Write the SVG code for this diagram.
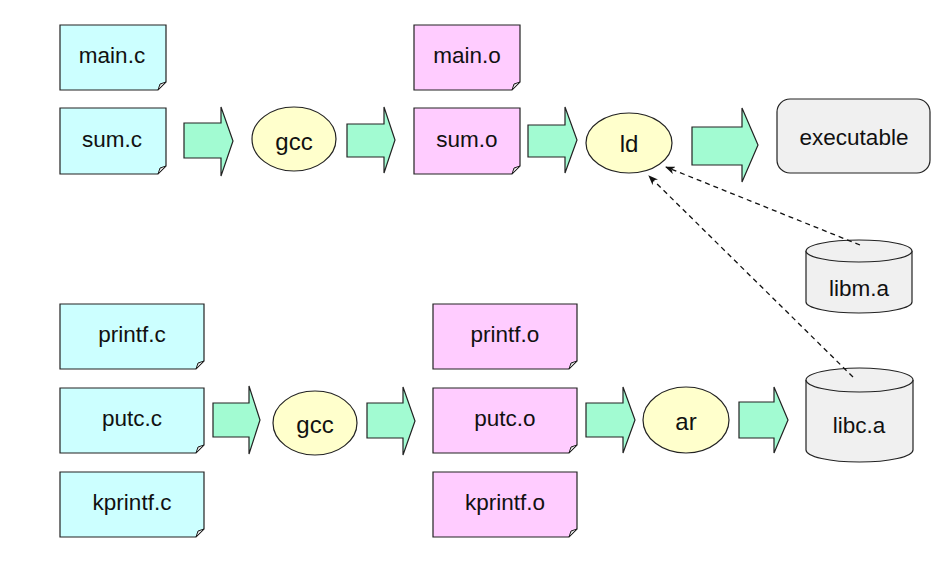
<svg xmlns="http://www.w3.org/2000/svg" width="943" height="568" viewBox="0 0 943 568">
<style>
.t{font-family:"Liberation Sans",Arial,sans-serif;font-size:22.5px;fill:#111;text-anchor:middle;dominant-baseline:central}
.src{fill:#ccffff;stroke:#222;stroke-width:1.2}
.obj{fill:#ffccff;stroke:#222;stroke-width:1.2}
.fold{fill:#d8d8d8;stroke:#222;stroke-width:1}
.tool{fill:#ffffcc;stroke:#222;stroke-width:1.2}
.gray{fill:#f0f0f0;stroke:#222;stroke-width:1.2}
.blk{fill:#a2fbd2;stroke:#222;stroke-width:1.2}
.dash{fill:none;stroke:#111;stroke-width:1.3;stroke-dasharray:5,4}
</style>
<defs>
<marker id="ah" markerWidth="10" markerHeight="8" refX="9" refY="4" orient="auto" markerUnits="userSpaceOnUse">
<path d="M0,0 L10,4 L0,8 L3,4 Z" fill="#111"/>
</marker>
</defs>
<rect width="943" height="568" fill="#fff"/>

<g id="main_c"><path class="src" d="M60,25 H166 V82 L158,90 H60 Z"/><path class="fold" d="M158,90 L160,84 L166,82 Z"/><text class="t" x="112" y="55">main.c</text></g>
<g id="sum_c"><path class="src" d="M60,108 H166 V166 L158,174 H60 Z"/><path class="fold" d="M158,174 L160,168 L166,166 Z"/><text class="t" x="112" y="139">sum.c</text></g>
<g id="gcc1"><ellipse class="tool" cx="294" cy="139" rx="42" ry="32"/><text class="t" x="294" y="141" style="font-size:24px">gcc</text></g>
<g id="main_o"><path class="obj" d="M414,25 H520 V82 L512,90 H414 Z"/><path class="fold" d="M512,90 L514,84 L520,82 Z"/><text class="t" x="467" y="55">main.o</text></g>
<g id="sum_o"><path class="obj" d="M414,108 H520 V166 L512,174 H414 Z"/><path class="fold" d="M512,174 L514,168 L520,166 Z"/><text class="t" x="467" y="139">sum.o</text></g>
<g id="ld"><ellipse class="tool" cx="629" cy="143" rx="43" ry="30"/><text class="t" x="629" y="143" style="font-size:24px">ld</text></g>
<g id="executable"><rect class="gray" x="777" y="99" width="153" height="74" rx="13"/><text class="t" x="854" y="137">executable</text></g>
<g id="libm_a"><path class="gray" d="M806,251 V302 A53,11 0 0 0 912,302 V251"/><ellipse class="gray" cx="859" cy="251" rx="53" ry="11"/><text class="t" x="859" y="288">libm.a</text></g>

<g id="printf_c"><path class="src" d="M60,304 H204 V361 L196,369 H60 Z"/><path class="fold" d="M196,369 L198,363 L204,361 Z"/><text class="t" x="132" y="334">printf.c</text></g>
<g id="putc_c"><path class="src" d="M60,388 H204 V445 L196,453 H60 Z"/><path class="fold" d="M196,453 L198,447 L204,445 Z"/><text class="t" x="132" y="418">putc.c</text></g>
<g id="kprintf_c"><path class="src" d="M60,472 H204 V529 L196,537 H60 Z"/><path class="fold" d="M196,537 L198,531 L204,529 Z"/><text class="t" x="132" y="502">kprintf.c</text></g>
<g id="gcc2"><ellipse class="tool" cx="315" cy="423" rx="42" ry="32"/><text class="t" x="315" y="424" style="font-size:24px">gcc</text></g>
<g id="printf_o"><path class="obj" d="M433,304 H577 V361 L569,369 H433 Z"/><path class="fold" d="M569,369 L571,363 L577,361 Z"/><text class="t" x="505" y="334">printf.o</text></g>
<g id="putc_o"><path class="obj" d="M433,388 H577 V445 L569,453 H433 Z"/><path class="fold" d="M569,453 L571,447 L577,445 Z"/><text class="t" x="505" y="418">putc.o</text></g>
<g id="kprintf_o"><path class="obj" d="M433,472 H577 V529 L569,537 H433 Z"/><path class="fold" d="M569,537 L571,531 L577,529 Z"/><text class="t" x="505" y="502">kprintf.o</text></g>
<g id="ar"><ellipse class="tool" cx="686" cy="420" rx="43" ry="33"/><text class="t" x="686" y="421" style="font-size:24px">ar</text></g>
<g id="libc_a"><path class="gray" d="M806,380 V450 A53.5,12 0 0 0 913,450 V380"/><ellipse class="gray" cx="859.5" cy="380" rx="53.5" ry="12"/><text class="t" x="859" y="425">libc.a</text></g>

<g id="connectors">
<path class="blk" d="M184,123 H221 V107 L233,141 L221,176 V158 H184 Z"/>
<path class="blk" d="M347,124 H384 V107 L395,140 L384,173 V157 H347 Z"/>
<path class="blk" d="M528,125 H565 V107 L577,140 L565,173 V157 H528 Z"/>
<path class="blk" d="M692,127 H742 V108 L758,145 L742,182 V165 H692 Z"/>
<path class="blk" d="M213,403 H249 V386 L260,420 L249,454 V437 H213 Z"/>
<path class="blk" d="M367,403 H403 V387 L415,421 L403,455 V438 H367 Z"/>
<path class="blk" d="M586,403 H623 V387 L635,420 L623,453 V437 H586 Z"/>
<path class="blk" d="M739,402 H774 V387 L788,420 L774,453 V438 H739 Z"/>
<line class="dash" x1="860" y1="245" x2="666" y2="167" marker-end="url(#ah)"/>
<line class="dash" x1="853" y1="377" x2="649" y2="176" marker-end="url(#ah)"/>
</g>
</svg>
